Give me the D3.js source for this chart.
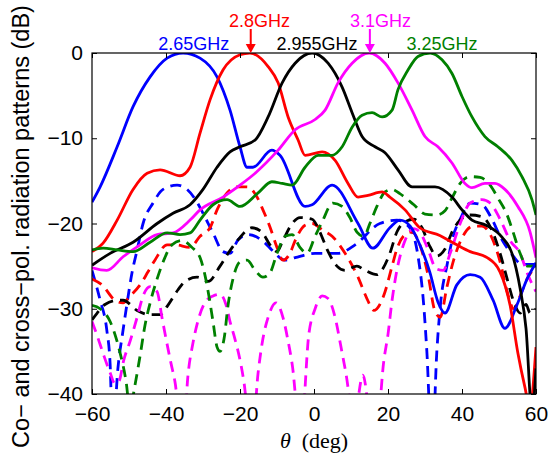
<!DOCTYPE html>
<html>
<head>
<meta charset="utf-8">
<script src="https://cdn.jsdelivr.net/npm/d3@7"></script>
<style>
  body { margin: 0; background: #fff; }
  svg text { font-family: "Liberation Sans", Arial, Helvetica, sans-serif; }
</style>
</head>
<body>
<svg id="chart"></svg>
<script>
// co-pol (solid) and cross-pol (dashed) patterns, [theta deg, dB]
const coBlue = [[-60,-17.5],[-57.8,-15.7],[-53.2,-11],[-48.9,-6.3],[-44.3,-2.8],[-39.7,-0.6],[-35.4,0],[-30.8,-0.6],[-26.2,-2.8],[-22.7,-6.7],[-20,-11],[-18.1,-13.4],[-16.5,-13.4],[-11.4,-11.4],[-9.2,-12],[-2.4,-18],[-0.5,-17.8],[4.9,-15.5],[11.9,-20],[15.9,-22.9],[20.5,-20.5],[23.2,-19.6],[26,-20.3],[28.6,-22.5],[31.3,-25.7],[33.5,-29.2],[35.4,-30.5],[38.6,-27.2],[42.2,-26],[44.9,-26.3],[48.4,-29],[51.6,-32.3],[54.9,-29.5],[57.6,-26.5],[60,-24.6]];
const coRed = [[-60,-23.3],[-57,-22.3],[-53.2,-19.6],[-48.9,-16],[-45.1,-14.1],[-41.6,-13.7],[-36.2,-14.4],[-33.5,-13.4],[-30.8,-9.4],[-28.1,-5.5],[-24.6,-2],[-20,-0.2],[-17.3,0],[-12.4,-1.6],[-9.7,-3.5],[-7,-7.5],[-4.3,-10.2],[-2.4,-12],[2.2,-11.6],[5.7,-12.6],[9.2,-15.3],[11.9,-16.9],[14.6,-16.7],[18.4,-16.3],[20.5,-16.9],[24.6,-18.4],[28.6,-20.5],[34,-21.4],[38.6,-22.5],[42.2,-23.3],[46.8,-24],[50.3,-25.7],[53,-29.6],[55.1,-35.2],[57,-39.2],[58.3,-41.5],[60,-34.5]];
const coBlack = [[-60,-24.9],[-55.1,-23.5],[-48.9,-22.2],[-42.4,-20],[-38.1,-18.8],[-33.5,-17.8],[-30,-16],[-26.2,-13.4],[-22.7,-11.6],[-20,-11],[-15.9,-10.2],[-12.4,-7.5],[-8.6,-3.5],[-5.1,-1.2],[-0.5,0],[3.8,-1.2],[7.6,-4],[10.3,-7],[13,-9.8],[16.5,-11],[19.2,-11.7],[22.7,-13.7],[26.5,-15.7],[32.7,-15.7],[37.3,-16.9],[40,-18.4],[42.7,-19.6],[46.5,-20.2],[50.8,-21.6],[53.5,-23.5],[55.7,-27.6],[57.3,-32.3],[58.9,-42],[60,-37]];
const coMagenta = [[-60,-25.2],[-56,-25.5],[-51.6,-23.9],[-47,-22.5],[-42.4,-21.3],[-38.1,-21.1],[-33.5,-19.6],[-30.8,-18.4],[-24.6,-16.9],[-20,-15.5],[-15.9,-14.1],[-9.7,-11.4],[-5.1,-9],[0.3,-7.8],[3,-6.7],[6.5,-3.5],[10.3,-1.2],[14.9,0],[19.2,-1.2],[22.7,-3.5],[26.5,-6.7],[30,-9.8],[33.5,-11],[37.3,-12.9],[40.8,-15.3],[42.7,-15.8],[46.2,-15.3],[48.9,-15.3],[51.6,-16],[55.1,-18],[58.4,-21],[60,-24]];
const coGreen = [[-60,-23.1],[-57,-22.9],[-53.2,-23.1],[-48.9,-23.3],[-44.3,-22.2],[-39.7,-21.1],[-36.2,-21.3],[-33.5,-21.1],[-30.8,-19.6],[-27.3,-17.8],[-23.5,-17.2],[-20,-18],[-15.1,-16.4],[-11.4,-15.1],[-8.6,-15.3],[-5.9,-15.5],[-2.4,-13.4],[1.1,-12],[4.9,-12],[7.6,-11],[10.3,-8.7],[13,-7.3],[15.7,-7],[18.4,-7.5],[21.1,-6.7],[22.7,-4.3],[25.4,-2],[28.1,-0.4],[31.4,0],[34.6,-0.8],[37.3,-2.4],[40,-5.1],[42.7,-7.5],[46.2,-9.8],[49.7,-11],[53.5,-12.6],[56.2,-14.5],[58.9,-17.2],[60,-19]];

const xpBlue = [[-60,-25.5],[-57.8,-29],[-56,-32.5],[-55.1,-36.5],[-54.4,-45],[-53,-37],[-51.6,-32.5],[-50.5,-29.3],[-49.2,-25.8],[-47.8,-23.1],[-46.2,-20],[-43.5,-17.6],[-40.8,-16],[-37,-15.5],[-34.3,-16],[-31.6,-17.5],[-30,-18.8],[-27.3,-21.1],[-24.6,-23.3],[-22.7,-23.5],[-20.5,-21.9],[-17.8,-21.3],[-13.2,-22.3],[-11.4,-23.1],[-7.8,-24.3],[-5.1,-24],[0.3,-23.5],[6.5,-23.5],[11.1,-22.5],[17.8,-20],[22.4,-19.6],[25.9,-20.5],[28.1,-23.8],[29.6,-29.3],[30.5,-35],[31.9,-47],[33.2,-35],[34.3,-29],[35.9,-25],[37.6,-21.5],[39.5,-19.5],[42.2,-17.6],[45.4,-17.8],[48.1,-19.5],[50.3,-21.5],[53.8,-23.8],[56.2,-24.8],[60,-24.8]];
const xpRed = [[-60,-26.5],[-57.3,-27.2],[-53.8,-29],[-51.6,-29.3],[-49.7,-28.5],[-47,-27.2],[-44.9,-25.7],[-43,-24.3],[-39.7,-22.5],[-37.6,-22.5],[-33.5,-22.8],[-30.8,-21.5],[-28.1,-20.5],[-26.2,-18.4],[-23.5,-16.4],[-20.8,-15.7],[-18.1,-15.7],[-15.4,-16.9],[-13.8,-18.4],[-11.9,-20.4],[-10,-22.8],[-8.4,-24.3],[-6.5,-23.5],[-5.1,-22],[-2.4,-20.2],[-0.5,-20],[2.4,-20.8],[4.9,-21.5],[8.4,-23.5],[11.9,-26.3],[14.3,-28.8],[16.2,-30.2],[17.8,-29.5],[19.2,-28],[21.1,-25],[22.4,-23],[24.6,-21.3],[26.5,-21],[28.6,-22.5],[30.8,-26],[32.7,-30.3],[34.1,-31],[35.9,-27.5],[37.6,-24.5],[40,-21.7],[43,-20.3],[45.4,-20.3],[48.1,-21.7],[50.3,-24.5],[52.2,-28],[54,-30],[55.7,-28.5],[57.6,-26.5],[60,-25]];
const xpBlack = [[-60,-31.3],[-58.6,-30.5],[-56.5,-29.5],[-53,-29],[-51.6,-29],[-47.8,-30.2],[-44.3,-30.7],[-41.6,-30.7],[-39.5,-29.6],[-36.8,-27.8],[-34.9,-26.8],[-31.6,-26.3],[-28.6,-26.8],[-25.4,-25],[-23.2,-23.5],[-20.5,-21.9],[-16.8,-20.5],[-14.1,-21],[-11.9,-22.5],[-10,-23.3],[-8.4,-22],[-5.9,-20],[-3.8,-19.3],[-0.5,-19.5],[1.6,-21],[3.5,-23],[6.2,-25],[8.4,-25.5],[11.6,-25],[13.8,-25.5],[17,-26],[18.6,-25.3],[20.5,-23.5],[22.4,-21],[24.6,-19.8],[27,-19.5],[29.2,-20.5],[31.1,-22.5],[33.2,-23.8],[35.4,-23],[37.3,-21],[39.5,-19.6],[42.2,-19],[45.4,-19.2],[48.1,-20.8],[50.3,-23.5],[52.2,-26.5],[54,-29.2],[55.7,-30.5],[57.3,-29.5],[58.4,-30.5],[60,-30]];
const xpMagenta = [[-60,-31.5],[-58.9,-32.8],[-57.8,-34.2],[-56.8,-35.5],[-55.1,-37.5],[-53.8,-38.8],[-52.7,-38.5],[-51.4,-36],[-49.7,-33.8],[-47.8,-31],[-46.2,-28.5],[-44.3,-27.4],[-42.4,-28],[-41.1,-31],[-40,-33.5],[-38.6,-36.5],[-37.6,-38.5],[-35.4,-46],[-34.1,-38],[-32.7,-34],[-31.4,-31.5],[-29.5,-29.3],[-27.3,-28.5],[-25.4,-28.3],[-23.8,-29.5],[-22.7,-31.5],[-21.4,-33.5],[-20,-36],[-18.9,-38.7],[-16.9,-46],[-15.1,-37.5],[-13.8,-33.5],[-12.4,-31],[-10.3,-29.3],[-8.4,-31],[-7,-33.8],[-5.9,-36.5],[-3.6,-45],[-1.4,-33],[0.3,-30],[2.2,-28.5],[3.8,-28.8],[5.7,-31],[7.3,-34.5],[8.6,-37.5],[10.8,-43],[13.2,-37.8],[16.4,-47],[18.9,-36],[20,-33],[21.1,-29],[22.4,-25.5],[24.6,-22],[27,-20.6],[28.6,-21],[30.8,-23],[33,-25.3],[34.9,-25.5],[36.8,-23.5],[39.5,-20],[42.2,-17.6],[45.4,-17.2],[47.6,-17.6],[50.3,-19.5],[53,-22],[55.7,-23.5],[57.8,-26],[60,-28]];
const xpGreen = [[-60,-29.6],[-57.8,-30],[-55.1,-31.5],[-53.8,-33],[-52.4,-35.2],[-50.8,-38.5],[-49.7,-42],[-48.6,-39.5],[-47,-35.5],[-45.7,-32],[-44.1,-29],[-42.4,-26.5],[-40.3,-24],[-38.4,-22.5],[-35.7,-22],[-33,-22.8],[-30.8,-24],[-29.5,-26],[-28.4,-28.5],[-27.3,-31.5],[-26.2,-34.5],[-25.4,-35],[-24.3,-33.5],[-23.2,-29.5],[-21.9,-26.5],[-20,-24.5],[-18.1,-24.3],[-15.9,-25.5],[-13.8,-26.3],[-11.9,-25.8],[-10,-23.5],[-7.8,-21.5],[-5.9,-21.3],[-3.8,-22.8],[-1.9,-23.5],[0.3,-21.5],[2.2,-19.8],[5.1,-17.6],[7.6,-18],[9.7,-19.3],[11.6,-21],[13.5,-21.5],[15.1,-20],[17,-18],[19.2,-16.3],[21.1,-16],[23.2,-16.5],[27,-17.8],[30,-18.9],[33.2,-19],[35.4,-18.5],[37.3,-17],[39.5,-15.3],[42.2,-14.5],[44.9,-14.6],[47.6,-15.5],[49.7,-17],[52.2,-19],[53.8,-21],[55.7,-23.5],[57.6,-25],[60,-25]];

const xTicks = [-60, -40, -20, 0, 20, 40, 60];
const yTicks = [-40, -30, -20, -10, 0];

const series = [
  { color: "#0000ff", co: coBlue, xp: xpBlue, label: "2.65GHz", at: -32.5, row: 1 },
  { color: "#ff0000", co: coRed, xp: xpRed, label: "2.8GHz", at: -14.7, row: 0, arrow: -17.1 },
  { color: "#000000", co: coBlack, xp: xpBlack, label: "2.955GHz", at: 0.8, row: 1 },
  { color: "#ff00ff", co: coMagenta, xp: xpMagenta, label: "3.1GHz", at: 18, row: 0, arrow: 15.1 },
  { color: "#008000", co: coGreen, xp: xpGreen, label: "3.25GHz", at: 34.6, row: 1 }
];

const W = 548, H = 460;
const margin = { top: 53, right: 12, bottom: 66, left: 92 };
const width = W - margin.left - margin.right;
const height = H - margin.top - margin.bottom;

const svg = d3.select("#chart").attr("width", W).attr("height", H);
const g = svg.append("g").attr("transform", `translate(${margin.left},${margin.top})`);

const x = d3.scaleLinear().domain([-60, 60]).range([0, width]);
const y = d3.scaleLinear().domain([-40, 0]).range([height, 0]);

g.append("clipPath").attr("id", "plotclip")
  .append("rect").attr("width", width).attr("height", height);

const line = d3.line()
  .x(d => x(d[0]))
  .y(d => y(d[1]))
  .curve(d3.curveMonotoneX);

const plot = g.append("g").attr("clip-path", "url(#plotclip)");

series.forEach(s => {
  plot.append("path")
    .datum(s.xp)
    .attr("fill", "none")
    .attr("stroke", s.color)
    .attr("stroke-width", 2.8)
    .attr("stroke-dasharray", "11,7")
    .attr("d", line);
});
series.forEach(s => {
  plot.append("path")
    .datum(s.co)
    .attr("fill", "none")
    .attr("stroke", s.color)
    .attr("stroke-width", 2.8)
    .attr("d", line);
});

// axes, ticks pointing inward on all four sides
const xb = g.append("g").attr("transform", `translate(0,${height})`)
  .call(d3.axisBottom(x).tickValues(xTicks).tickSize(-5).tickPadding(12));
const yl = g.append("g")
  .call(d3.axisLeft(y).tickValues(yTicks).tickSize(-5).tickPadding(9));
g.append("g").call(d3.axisTop(x).tickValues(xTicks).tickSize(-5).tickFormat(""));
g.append("g").attr("transform", `translate(${width},0)`)
  .call(d3.axisRight(y).tickValues(yTicks).tickSize(-5).tickFormat(""));

g.selectAll(".domain").remove();
g.selectAll(".tick line").attr("stroke", "#000");
g.selectAll(".tick text")
  .attr("fill", "#000")
  .style("font-size", "21px")
  .style("font-family", "'Liberation Sans', Arial, sans-serif");
xb.selectAll(".tick text").attr("dy", "0.71em");

g.append("rect")
  .attr("width", width).attr("height", height)
  .attr("fill", "none").attr("stroke", "#000").attr("stroke-width", 1.2);

// frequency labels
series.forEach(s => {
  g.append("text")
    .attr("x", x(s.at))
    .attr("y", s.row === 0 ? -26 : -3)
    .attr("text-anchor", "middle")
    .attr("fill", s.color)
    .style("font-size", "18px")
    .text(s.label);
  if (s.arrow !== undefined) {
    const ax = x(s.arrow);
    g.append("line")
      .attr("x1", ax).attr("x2", ax)
      .attr("y1", -24).attr("y2", -6)
      .attr("stroke", s.color).attr("stroke-width", 2);
    g.append("path")
      .attr("d", `M${ax - 5},-9 L${ax + 5},-9 L${ax},0 Z`)
      .attr("fill", s.color);
  }
});

// axis titles
svg.append("text")
  .attr("transform", `translate(29,${margin.top + height / 2 + 3}) rotate(-90)`)
  .attr("text-anchor", "middle")
  .style("font-size", "23.5px")
  .text("Co\u2212 and cross\u2212pol. radiation patterns (dB)");

const xt = svg.append("text")
  .attr("x", margin.left + width / 2)
  .attr("y", 448)
  .attr("text-anchor", "middle")
  .style("font-family", "'Liberation Serif', 'Times New Roman', serif")
  .style("font-size", "22px");
xt.append("tspan").style("font-style", "italic").style("font-family", "'Liberation Serif', 'Times New Roman', serif").text("\u03b8");
xt.append("tspan").style("font-family", "'Liberation Serif', 'Times New Roman', serif").text("\u00a0\u00a0(deg)");
</script>
</body>
</html>
